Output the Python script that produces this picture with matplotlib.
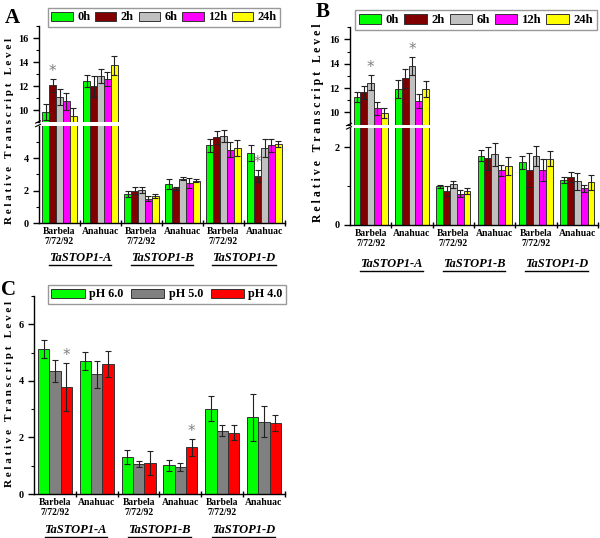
import matplotlib
matplotlib.use('Agg')
import matplotlib.pyplot as plt
import numpy as np
from matplotlib.patches import Patch
from matplotlib.lines import Line2D
import matplotlib.transforms as mtransforms

plt.rcParams['font.family'] = ['Liberation Serif', 'DejaVu Serif']
plt.rcParams['font.weight'] = 'bold'

# ---------------- data ----------------
group_labels = ['Barbela\n7/72/92', 'Anahuac', 'Barbela\n7/72/92', 'Anahuac', 'Barbela\n7/72/92', 'Anahuac']
gene_labels = ['TaSTOP1-A', 'TaSTOP1-B', 'TaSTOP1-D']

time_labels = ['0h', '2h', '6h', '12h', '24h']
time_colors = ['#00ff00', '#800000', '#c0c0c0', '#ff00ff', '#ffff00']

# Panel A
a_0h = [9.83, 12.42, 1.77, 2.38, 4.80, 4.30]
a_2h = [12.06, 11.97, 1.99, 2.13, 5.27, 2.89]
a_6h = [11.06, 12.83, 2.03, 2.73, 5.35, 4.60]
a_12h = [10.72, 12.60, 1.50, 2.44, 4.51, 4.78]
a_24h = [9.47, 13.72, 1.66, 2.60, 4.60, 4.86]
a_0h_err = [0.70, 0.50, 0.20, 0.30, 0.40, 0.50]
a_2h_err = [0.55, 0.90, 0.20, 0.10, 0.40, 0.35]
a_6h_err = [0.65, 0.55, 0.18, 0.08, 0.35, 0.55]
a_12h_err = [0.70, 0.60, 0.15, 0.30, 0.45, 0.42]
a_24h_err = [0.70, 0.80, 0.10, 0.10, 0.50, 0.20]
a_signif = [(0, 1), (5, 1)]  # (group, series)

# Panel B
b_0h = [11.28, 11.90, 1.00, 1.78, 1.61, 1.15]
b_2h = [11.65, 12.80, 0.875, 1.72, 1.42, 1.24]
b_6h = [12.44, 13.78, 1.05, 1.82, 1.77, 1.12]
b_12h = [10.33, 10.90, 0.81, 1.41, 1.41, 0.94]
b_24h = [9.92, 11.92, 0.88, 1.51, 1.71, 1.10]
b_0h_err = [0.42, 0.75, 0.04, 0.14, 0.17, 0.08]
b_2h_err = [0.55, 0.80, 0.14, 0.30, 0.43, 0.13]
b_6h_err = [0.60, 0.75, 0.09, 0.30, 0.26, 0.23]
b_12h_err = [0.55, 0.58, 0.08, 0.14, 0.28, 0.10]
b_24h_err = [0.40, 0.63, 0.08, 0.23, 0.19, 0.20]
b_signif = [(0, 2), (1, 2)]

# Panel C
ph_labels = ['pH 6.0', 'pH 5.0', 'pH 4.0']
ph_colors = ['#00ff00', '#808080', '#ff0000']
c_ph6 = [5.13, 4.70, 1.30, 1.01, 3.02, 2.72]
c_ph5 = [4.34, 4.23, 1.06, 0.95, 2.24, 2.56]
c_ph4 = [3.77, 4.59, 1.10, 1.65, 2.17, 2.52]
c_ph6_err = [0.32, 0.33, 0.25, 0.20, 0.43, 0.83]
c_ph5_err = [0.38, 0.47, 0.10, 0.13, 0.20, 0.55]
c_ph4_err = [0.85, 0.46, 0.43, 0.31, 0.26, 0.29]
c_signif = [(0, 2), (3, 2)]

# ---------------- figure ----------------
W, H = 600, 538
fig = plt.figure(figsize=(W / 100, H / 100), dpi=100)


def rect(x0, y0, x1, y1):
    """pixel box (top-left origin) -> figure fraction rect"""
    return [x0 / W, 1 - y1 / H, (x1 - x0) / W, (y1 - y0) / H]


YTICKFS = 7.4
XTICKFS = 6.9
EDGE = '#333333'
ERRC = '#222222'


def draw_bars(ax, series, errs, colors, width):
    n = len(series)
    x = np.arange(len(series[0]))
    for i, (vals, e, c) in enumerate(zip(series, errs, colors)):
        off = (i - (n - 1) / 2) * width
        ax.bar(x + off, vals, width, yerr=e, color=c, edgecolor=EDGE, linewidth=0.7,
               error_kw=dict(ecolor=ERRC, elinewidth=0.8, capsize=2, capthick=0.8))


def style_ax(ax, bottom=True):
    ax.spines['top'].set_visible(False)
    ax.spines['right'].set_visible(False)
    ax.spines['left'].set_linewidth(1.0)
    ax.spines['bottom'].set_linewidth(1.0)
    ax.tick_params(axis='y', which='major', direction='out', length=4, width=1, labelsize=YTICKFS)
    ax.tick_params(axis='y', which='minor', direction='out', length=2, width=0.8)
    ax.set_xlim(-0.5, 5.5)
    if bottom:
        ax.set_xticks(np.arange(0.5, 6.0, 1.0))
        ax.set_xticklabels([])
        ax.tick_params(axis='x', which='major', direction='inout', length=5, width=1)
        ax.set_xticks(np.arange(6), group_labels, minor=True)
        ax.tick_params(axis='x', which='minor', length=0, pad=3, labelsize=XTICKFS)
        for lab in ax.get_xticklabels(minor=True):
            lab.set_linespacing(1.1)
    else:
        ax.spines['bottom'].set_visible(False)
        ax.set_xticks([])


def break_marks(ax_up, ax_lo):
    kw = dict(color='k', lw=0.8, clip_on=False)
    for ax, y in ((ax_up, 0), (ax_lo, 1)):
        ax.plot([-0.014, 0.006], [y - 0.012, y + 0.012], transform=ax.transAxes, **kw)


def signif(ax_up, ax_lo, series, errs, width, marks, thresh):
    n = len(series)
    for g, s in marks:
        top = series[s][g] + errs[s][g]
        ax = ax_up if (ax_up is not None and series[s][g] > thresh) else ax_lo
        x = g + (s - (n - 1) / 2) * width
        ax.annotate('*', xy=(x, top), xytext=(0, 0), textcoords='offset points',
                    ha='center', va='bottom', fontsize=11, color='#808080',
                    fontweight='normal', family='DejaVu Sans')


# ---- Panel A ----
A_series = [a_0h, a_2h, a_6h, a_12h, a_24h]
A_errs = [a_0h_err, a_2h_err, a_6h_err, a_12h_err, a_24h_err]
wA = 0.166
axA_up = fig.add_axes(rect(39, 26, 285, 122))
axA_lo = fig.add_axes(rect(39, 125.5, 285, 223))
for ax in (axA_up, axA_lo):
    draw_bars(ax, A_series, A_errs, time_colors, wA)
axA_up.set_ylim(9, 17)
axA_up.set_yticks([10, 12, 14, 16])
axA_up.set_yticks([9, 11, 13, 15, 17], minor=True)
axA_lo.set_ylim(0, 6)
axA_lo.set_yticks([0, 2, 4])
axA_lo.set_yticks([1, 3, 5], minor=True)
style_ax(axA_up, bottom=False)
style_ax(axA_lo, bottom=True)
break_marks(axA_up, axA_lo)
signif(axA_up, axA_lo, A_series, A_errs, wA, a_signif, 9)

# ---- Panel B ----
B_series = [b_0h, b_2h, b_6h, b_12h, b_24h]
B_errs = [b_0h_err, b_2h_err, b_6h_err, b_12h_err, b_24h_err]
wB = 0.165
axB_up = fig.add_axes(rect(350, 27.2, 598, 124.5))
axB_lo = fig.add_axes(rect(350, 127.9, 598, 225))
for ax in (axB_up, axB_lo):
    draw_bars(ax, B_series, B_errs, time_colors, wB)
axB_up.set_ylim(9, 17)
axB_up.set_yticks([10, 12, 14, 16])
axB_up.set_yticks([9, 11, 13, 15, 17], minor=True)
axB_lo.set_ylim(0, 2.5)
axB_lo.set_yticks([0, 2])
axB_lo.set_yticks([1], minor=True)
style_ax(axB_up, bottom=False)
style_ax(axB_lo, bottom=True)
break_marks(axB_up, axB_lo)
signif(axB_up, axB_lo, B_series, B_errs, wB, b_signif, 9)

# ---- Panel C ----
C_series = [c_ph6, c_ph5, c_ph4]
C_errs = [c_ph6_err, c_ph5_err, c_ph4_err]
wC = 0.27
axC = fig.add_axes(rect(34, 296, 285, 494))
draw_bars(axC, C_series, C_errs, ph_colors, wC)
axC.set_ylim(0, 7)
axC.set_yticks([0, 2, 4, 6])
axC.set_yticks([1, 3, 5, 7], minor=True)
style_ax(axC, bottom=True)
signif(None, axC, C_series, C_errs, wC, c_signif, 99)

# ---- legends ----
def make_legend(labels, colors, cx, cy, hl, fs, cs):
    handles = [Patch(facecolor=c, edgecolor=EDGE, linewidth=0.7) for c in colors]
    leg = fig.legend(handles, labels, ncol=len(labels), loc='center',
                     bbox_to_anchor=(cx / W, 1 - cy / H), frameon=True, fancybox=False,
                     edgecolor='#808080', handlelength=hl, handleheight=0.8,
                     handletextpad=0.35, columnspacing=cs, borderpad=0.3,
                     prop=dict(family='Liberation Serif', weight='bold', size=fs))
    leg.get_frame().set_linewidth(1.0)
    return leg

make_legend(time_labels, time_colors, 164, 17.5, 1.75, 8.8, 0.4)
make_legend(time_labels, time_colors, 476, 20, 1.75, 9.2, 0.4)
make_legend(ph_labels, ph_colors, 167, 294.5, 2.75, 8.7, 0.65)

# ---- y labels ----
ylab = ' '.join(list('Relative')) + '   ' + ' '.join(list('Transcript')) + '   ' + ' '.join(list('Level'))
fig.text(10 / W, 1 - 131 / H, ylab, rotation=90, ha='center', va='center', fontsize=8)
fig.text(318 / W, 1 - 123 / H, ylab, rotation=90, ha='center', va='center', fontsize=8.5)
fig.text(10 / W, 1 - 394 / H, ylab, rotation=90, ha='center', va='center', fontsize=8)

# ---- panel letters ----
fig.text(5 / W, 1 - 18 / H, 'A', fontsize=15, va='center', ha='left')
fig.text(316 / W, 1 - 12 / H, 'B', fontsize=15, va='center', ha='left')
fig.text(1 / W, 1 - 290 / H, 'C', fontsize=15, va='center', ha='left')

# ---- gene labels (underlined, bold italic) ----
gene_texts = []
for ax, ypix in ((axA_lo, 258), (axB_lo, 264), (axC, 530)):
    tr = mtransforms.blended_transform_factory(ax.transData, fig.transFigure)
    for k, g in enumerate(gene_labels):
        t = ax.text(2 * k + 0.5, 1 - ypix / H, g, transform=tr, ha='center', va='center',
                    fontsize=9, style='italic', fontweight='bold')
        gene_texts.append(t)

fig.canvas.draw()
renderer = fig.canvas.get_renderer()
for t in gene_texts:
    bb = t.get_window_extent(renderer)
    x0, x1 = bb.x0 / W, bb.x1 / W
    y = (bb.y0 - 0.5) / H
    fig.add_artist(Line2D([x0, x1], [y, y], transform=fig.transFigure, color='k', lw=1.0))

fig.savefig('out.png', dpi=100)
